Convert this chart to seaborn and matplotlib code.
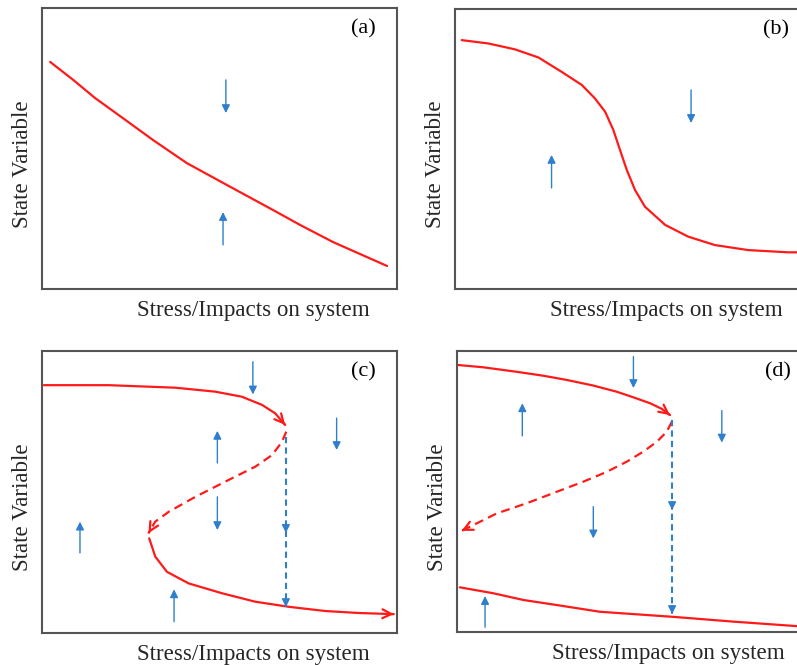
import matplotlib
matplotlib.use("Agg")
import matplotlib.pyplot as plt
import pandas as pd
import seaborn as sns

# ---- data (axes space 0..100 in each panel) ----
a_x = [2.3, 8.8, 14.9, 22.9, 31.3, 40.8, 52.1, 65.1, 72.7, 82.0, 97.2]
a_y = [80.8, 74.4, 68.0, 60.7, 53.0, 44.8, 37.0, 28.1, 22.8, 16.7, 8.2]

b_x = [1.9, 9.4, 16.9, 23.5, 30.0, 35.7, 39.4, 42.3, 44.6, 46.5, 48.4, 50.7,
       53.5, 59.2, 65.7, 73.2, 82.6, 93.9, 100.0]
b_y = [88.9, 87.7, 85.6, 82.7, 77.6, 72.9, 68.1, 63.3, 56.8, 49.6, 42.5, 35.4,
       29.4, 22.9, 18.7, 15.7, 13.9, 13.1, 13.1]

c_upper_x = [0.5, 18.8, 37.6, 48.8, 56.3, 62.0, 65.7, 68.5]
c_upper_y = [87.9, 87.9, 87.0, 85.6, 83.8, 80.9, 77.9, 73.8]
c_middle_x = [68.8, 67.6, 64.8, 60.1, 52.6, 43.2, 35.7, 31.9, 30.0]
c_middle_y = [71.4, 67.8, 63.1, 59.0, 54.3, 48.3, 43.0, 39.5, 35.4]
c_lower_x = [30.2, 31.9, 35.2, 41.3, 50.7, 60.1, 69.5, 79.8, 89.2, 99.1]
c_lower_y = [33.6, 27.1, 21.7, 17.6, 14.1, 11.1, 9.3, 7.8, 7.1, 6.7]

d_upper_x = [0.4, 7.4, 16.8, 24.3, 30.9, 38.4, 45.0, 49.7, 54.4, 57.7, 60.0]
d_upper_y = [95.0, 94.2, 92.6, 91.2, 89.7, 87.7, 85.5, 83.5, 81.4, 79.4, 77.2]
d_middle_x = [60.5, 59.1, 56.3, 52.5, 47.8, 42.2, 35.6, 28.1, 19.6, 11.2, 1.3]
d_middle_y = [74.8, 71.3, 67.7, 64.2, 60.6, 57.0, 53.5, 49.9, 45.8, 42.2, 36.0]
d_lower_x = [0.8, 10.2, 18.7, 28.1, 40.3, 60.9, 77.8, 95.7, 100.0]
d_lower_y = [15.9, 13.8, 11.4, 9.6, 7.2, 5.4, 3.7, 2.1, 1.6]

# blue flow arrows: (x, y_start, y_end)
a_arrows = [(51.8, 74.4, 62.6), (51.0, 15.7, 27.4)]
b_arrows = [(66.5, 71.1, 59.3), (27.2, 36.1, 47.9)]
c_arrows = [(59.4, 96.2, 84.6), (83.0, 76.2, 64.9), (49.4, 60.3, 71.7),
            (49.4, 48.3, 36.5), (10.7, 28.4, 39.5), (37.2, 4.0, 15.5)]
d_arrows = [(49.7, 98.0, 86.8), (18.4, 69.8, 81.4), (74.6, 78.8, 67.4),
            (38.4, 44.6, 33.3), (7.9, 1.7, 12.8)]

# tipping jumps: (x, y_top, y_mid, y_bottom)
c_jump = (68.7, 69.5, 35.5, 9.2)
d_jump = (60.6, 75.4, 43.4, 6.4)

panel_labels = ["(a)", "(b)", "(c)", "(d)"]
xlabel = "Stress/Impacts on system"
ylabel = "State Variable"

RED = "#FF1A1A"
BLUE = "#2F7FCC"

sns.set_theme(style="white")
plt.rcParams["font.family"] = ["Liberation Serif", "DejaVu Serif"]

fig = plt.figure(figsize=(7.97, 6.65), dpi=100)
positions = [
    [0.0527, 0.5654, 0.4454, 0.4226],
    [0.5709, 0.5654, 0.4454, 0.4210],
    [0.0527, 0.0481, 0.4454, 0.4240],
    [0.5734, 0.0496, 0.4454, 0.4226],
]
axes = [fig.add_axes(p) for p in positions]


def curve(ax, xs, ys, dashed=False, head=False):
    df = pd.DataFrame({"x": xs, "y": ys})
    sns.lineplot(data=df, x="x", y="y", ax=ax, sort=False, estimator=None,
                 color=RED, lw=1.6, linestyle=(0, (4, 2.5)) if dashed else "-")
    if head:
        ax.annotate("", xy=(xs[-1], ys[-1]),
                    xytext=(xs[-1] - (xs[-1] - xs[-2]) * 0.05,
                            ys[-1] - (ys[-1] - ys[-2]) * 0.05),
                    arrowprops=dict(arrowstyle="->", color=RED, lw=1.6,
                                    mutation_scale=16, shrinkA=0, shrinkB=0))


def flow_arrows(ax, arrows):
    for x, y0, y1 in arrows:
        ax.annotate("", xy=(x, y1), xytext=(x, y0),
                    arrowprops=dict(arrowstyle="-|>", color=BLUE, lw=1.0,
                                    mutation_scale=12, shrinkA=0, shrinkB=0))


def jump(ax, j):
    x, top, mid, bot = j
    ax.plot([x, x], [top, bot], color=BLUE, lw=1.5, linestyle=(0, (3, 2)))
    for yy in (mid, bot):
        ax.annotate("", xy=(x, yy), xytext=(x, yy + 1),
                    arrowprops=dict(arrowstyle="-|>", color=BLUE, lw=1.0,
                                    mutation_scale=12, shrinkA=0, shrinkB=0))


curve(axes[0], a_x, a_y)
flow_arrows(axes[0], a_arrows)

curve(axes[1], b_x, b_y)
flow_arrows(axes[1], b_arrows)

curve(axes[2], c_upper_x, c_upper_y, head=True)
curve(axes[2], c_middle_x, c_middle_y, dashed=True, head=True)
curve(axes[2], c_lower_x, c_lower_y, head=True)
jump(axes[2], c_jump)
flow_arrows(axes[2], c_arrows)

curve(axes[3], d_upper_x, d_upper_y, head=True)
curve(axes[3], d_middle_x, d_middle_y, dashed=True, head=True)
curve(axes[3], d_lower_x, d_lower_y)
jump(axes[3], d_jump)
flow_arrows(axes[3], d_arrows)

for ax, lab in zip(axes, panel_labels):
    ax.set_xlim(0, 100)
    ax.set_ylim(0, 100)
    ax.set_xticks([])
    ax.set_yticks([])
    for sp in ax.spines.values():
        sp.set_visible(True)
        sp.set_color("#555555")
        sp.set_linewidth(1.5)
    ax.set_xlabel(xlabel, fontsize=16.6)
    ax.set_ylabel(ylabel, fontsize=16.6)
    ax.xaxis.set_label_coords(0.596, -0.075)
    ax.yaxis.set_label_coords(-0.056, 0.445)
    ax.xaxis.label.set_va("center")
    ax.yaxis.label.set_va("center")
    ax.text(0.905, 0.925, lab, transform=ax.transAxes, fontsize=16,
            ha="center", va="center", color="black")

fig.savefig("out.png", dpi=100)
